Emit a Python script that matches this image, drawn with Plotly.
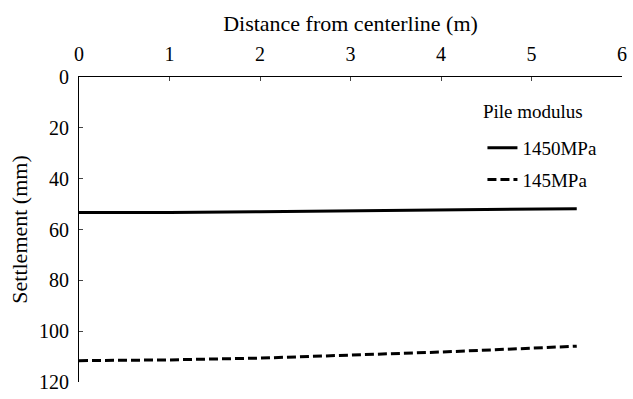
import plotly.graph_objects as go

distance = [0, 1, 2, 3, 4, 5, 5.5]
settle_1450 = [53.3, 53.3, 53.0, 52.6, 52.2, 51.9, 51.8]
settle_145 = [111.6, 111.3, 110.6, 109.5, 108.2, 106.7, 105.9]
x_ticks = [0, 1, 2, 3, 4, 5, 6]
y_ticks = [0, 20, 40, 60, 80, 100, 120]

FONT = "Liberation Serif"

fig = go.Figure()
fig.add_trace(go.Scatter(x=distance, y=settle_1450, mode="lines", name="1450MPa",
                         legendgroup="a",
                         line=dict(color="black", width=3)))
fig.add_trace(go.Scatter(x=distance, y=settle_145, mode="lines", name="145MPa",
                         legendgroup="b",
                         line=dict(color="black", width=3, dash="9px,4px")))

fig.add_annotation(text="Pile modulus", xref="paper", yref="paper",
                   x=0.741, y=(389 - 112) / 312, xanchor="left", yanchor="middle",
                   showarrow=False, font=dict(family=FONT, size=19, color="black"))

fig.update_layout(
    width=633, height=399,
    margin=dict(l=79, r=6, t=77, b=10),
    paper_bgcolor="white", plot_bgcolor="white",
    font=dict(family=FONT, size=20, color="black"),
    showlegend=True,
    legend=dict(x=0.743, y=0.83, xanchor="left", yanchor="top",
                bgcolor="rgba(0,0,0,0)", tracegroupgap=4,
                font=dict(family=FONT, size=19, color="black")),
    xaxis=dict(side="top", range=[0, 6], tickvals=x_ticks, ticks="inside", ticklen=4,
               showline=True, linecolor="black", linewidth=1, showgrid=False, zeroline=False,
               ticklabelstandoff=7, ticklabeloverflow="allow",
               tickfont=dict(family=FONT, size=20, color="black"),
               title=dict(text="Distance from centerline (m)",
                          font=dict(family=FONT, size=22, color="black"), standoff=5)),
    yaxis=dict(range=[120, 0], tickvals=y_ticks, ticks="inside", ticklen=4,
               showline=True, linecolor="black", linewidth=1, showgrid=False, zeroline=False,
               ticklabelstandoff=5, ticklabeloverflow="allow",
               tickfont=dict(family=FONT, size=20, color="black"),
               title=dict(text="Settlement (mm)",
                          font=dict(family=FONT, size=22, color="black"), standoff=5)),
)

fig.write_html("out.html")
